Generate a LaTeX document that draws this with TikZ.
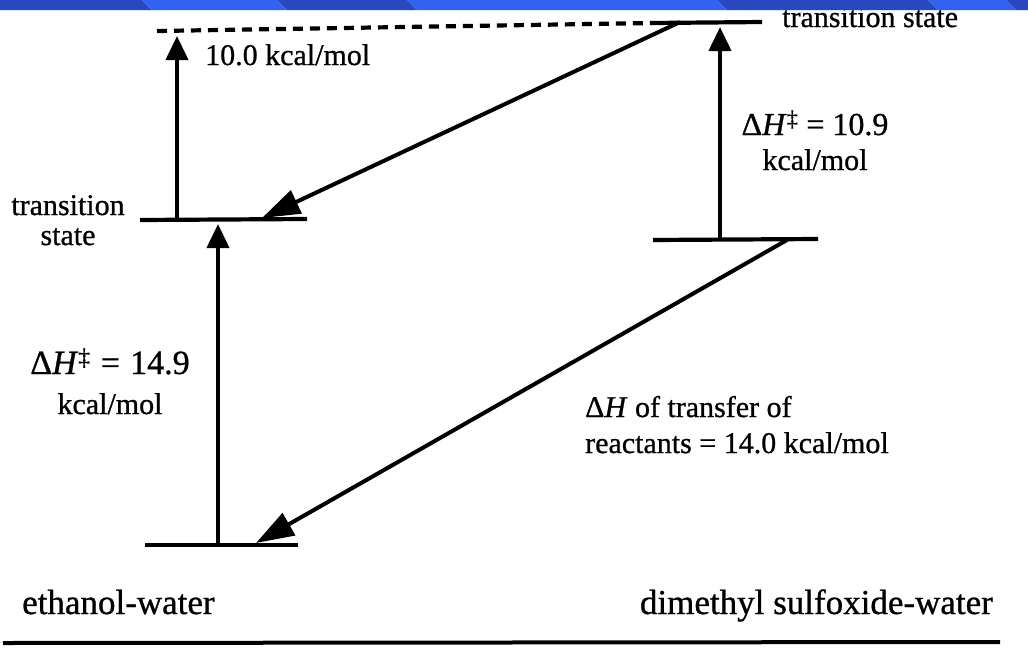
\documentclass[tikz,border=0pt]{standalone}
\usepackage{fontspec}
\setmainfont{Liberation Serif}[FakeBold=0.8]
\usetikzlibrary{arrows.meta}
\definecolor{banddark}{HTML}{2849BD}
\definecolor{bandlight}{HTML}{3263F0}
\newcommand{\eqsp}[1]{\hspace{#1}=\hspace{#1}}
\tikzset{
  level/.style={line width=4.2pt},
  vup/.style={line width=4pt,-{Triangle[length=24pt,width=22pt]}},
  diag/.style={line width=4pt,-{Triangle[length=38pt,width=25pt]}},
  lbl/.style={inner sep=0pt,anchor=base,font=\fontsize{30}{30}\selectfont},
  lblw/.style={lbl,anchor=base west},
  lble/.style={lbl,anchor=base east},
  biglbl/.style={font=\fontsize{35}{35}\selectfont},
}
\begin{document}
\begin{tikzpicture}[x=1pt,y=-1pt]
\useasboundingbox (0,0) rectangle (1028,654);
\fill[white] (0,0) rectangle (1028,654);
% level end points
\coordinate (dashL) at (157,31);
\coordinate (topL) at (652,23);
\coordinate (topR) at (762,22);
\coordinate (tsLl) at (140,220);
\coordinate (tsLr) at (307,219);
\coordinate (reLl) at (145,545);
\coordinate (reLr) at (298,545);
\coordinate (reRl) at (653,240);
\coordinate (reRr) at (818,239);
% arrow ends
\coordinate (a1s) at (177,220);
\coordinate (a1e) at (177,36);
\coordinate (a2s) at (218,545);
\coordinate (a2e) at (218,224);
\coordinate (a3s) at (720,239);
\coordinate (a3e) at (720,27);
\coordinate (d1s) at (680,22);
\coordinate (d1e) at (262,218);
\coordinate (d2s) at (787,240);
\coordinate (d2e) at (256,543);
\coordinate (ruleL) at (3,643);
\coordinate (ruleR) at (1000,642);
% levels
\draw[level,dash pattern=on 10pt off 7pt] (dashL) -- (topL);
\draw[level] (topL) -- (topR);
\draw[level] (tsLl) -- (tsLr);
\draw[level] (reLl) -- (reLr);
\draw[level] (reRl) -- (reRr);
\draw[level,line width=4pt] (ruleL) -- (ruleR);
% arrows
\draw[vup] (a1s) -- (a1e);
\draw[vup] (a2s) -- (a2e);
\draw[vup] (a3s) -- (a3e);
\draw[diag] (d1s) -- (d1e);
\draw[diag] (d2s) -- (d2e);
% labels
\node[lblw] (tsR) at (782,27) {transition state};
\node[lblw] (e10) at (205,65) {10.0 kcal/mol};
\node[lbl] (tsLa) at (68,215) {transition};
\node[lbl] (tsLb) at (68,245) {state};
\node[lbl,font=\fontsize{32}{32}\selectfont] (dhR1) at (815,135) {Δ\textit{H}\textsuperscript{‡} = 10.9};
\node[lbl] (dhR2) at (815,170) {kcal/mol};
\node[lbl,font=\fontsize{34}{34}\selectfont] (dhL1) at (110,374) {Δ\textit{H}\textsuperscript{‡}\eqsp{0.3em}14.9};
\node[lbl] (dhL2) at (110,414) {kcal/mol};
\node[lblw] (tr1) at (585,417) {Δ\textit{H} of transfer of};
\node[lblw] (tr2) at (585,453) {reactants = 14.0 kcal/mol};
\node[lblw,biglbl] (ew) at (22,614) {ethanol-water};
\node[lble,biglbl] (dw) at (993,614) {dimethyl sulfoxide-water};
% top band
\fill[banddark] (0,0) -- (142,0) -- (152,10) -- (0,10) -- cycle;
\fill[bandlight] (142,0) -- (277,0) -- (287,10) -- (152,10) -- cycle;
\fill[banddark] (277,0) -- (407,0) -- (417,10) -- (287,10) -- cycle;
\fill[bandlight] (407,0) -- (717,0) -- (727,10) -- (417,10) -- cycle;
\fill[banddark] (717,0) -- (928,0) -- (938,10) -- (727,10) -- cycle;
\fill[bandlight] (928,0) -- (1006,0) -- (1016,10) -- (938,10) -- cycle;
\fill[banddark] (1006,0) -- (1028,0) -- (1028,10) -- (1016,10) -- cycle;
\end{tikzpicture}
\end{document}
